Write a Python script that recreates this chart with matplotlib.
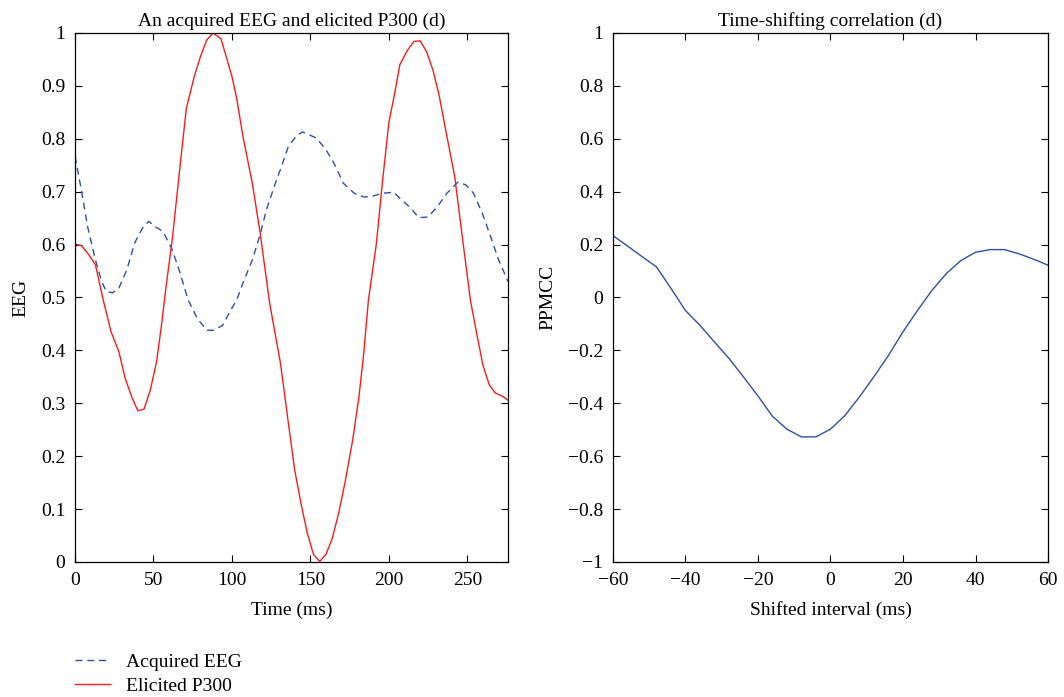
import matplotlib
matplotlib.use("Agg")
import matplotlib.pyplot as plt
from matplotlib.ticker import FuncFormatter

plt.rcParams['font.family'] = ['Liberation Serif', 'DejaVu Serif']
plt.rcParams['axes.unicode_minus'] = True

# Elicited P300 (red)
p300_t = [0, 4, 8, 13, 18, 23, 28, 32, 36, 40, 44, 48, 52, 55, 58, 62, 67, 71, 76, 80, 84,
          88, 93, 96, 100, 103, 107, 113, 118, 124, 131, 136, 140, 144, 148, 152, 156, 160,
          164, 168, 172, 177, 181, 184, 187, 192, 196, 200, 204, 207, 212, 216, 220, 224,
          228, 232, 237, 242, 246, 252, 256, 260, 264, 268, 272, 276]
p300_v = [0.601, 0.598, 0.584, 0.562, 0.495, 0.435, 0.397, 0.347, 0.313, 0.286, 0.289, 0.325,
          0.379, 0.445, 0.52, 0.61, 0.75, 0.858, 0.918, 0.956, 0.987, 1.0, 0.989, 0.959,
          0.918, 0.877, 0.805, 0.716, 0.622, 0.49, 0.375, 0.262, 0.174, 0.111, 0.055, 0.014,
          0.001, 0.015, 0.045, 0.092, 0.149, 0.231, 0.313, 0.394, 0.495, 0.6, 0.72, 0.83,
          0.89, 0.94, 0.968, 0.984, 0.985, 0.965, 0.931, 0.883, 0.805, 0.729, 0.634, 0.495,
          0.432, 0.372, 0.335, 0.319, 0.314, 0.306]

# Acquired EEG (blue dashed)
eeg_t = [0, 4, 8, 13, 17, 20, 24, 28, 33, 38, 43, 47, 51, 56, 62, 67, 72, 78, 84, 88, 94,
         99, 103, 107, 113, 118, 122, 127, 132, 136, 141, 145, 149, 154, 160, 165, 171, 178,
         184, 189, 196, 203, 208, 214, 219, 225, 231, 237, 244, 249, 254, 260, 265, 270, 276]
eeg_v = [0.767, 0.704, 0.634, 0.571, 0.53, 0.511, 0.509, 0.518, 0.552, 0.603, 0.631, 0.644,
         0.634, 0.625, 0.59, 0.546, 0.496, 0.46, 0.438, 0.438, 0.447, 0.475, 0.495, 0.527,
         0.571, 0.619, 0.666, 0.71, 0.751, 0.786, 0.805, 0.813, 0.808, 0.801, 0.779, 0.754,
         0.716, 0.697, 0.69, 0.691, 0.697, 0.699, 0.685, 0.669, 0.651, 0.652, 0.672, 0.697,
         0.718, 0.713, 0.697, 0.656, 0.614, 0.571, 0.53]

# Time-shifting correlation
shift = [-60, -56, -52, -48, -44, -40, -36, -32, -28, -24, -20, -16, -12, -8, -4, 0, 4, 8,
         12, 16, 20, 24, 28, 32, 36, 40, 44, 48, 52, 56, 60]
ppmcc = [0.234, 0.195, 0.155, 0.116, 0.035, -0.049, -0.105, -0.168, -0.23, -0.30, -0.372,
         -0.449, -0.498, -0.527, -0.527, -0.498, -0.446, -0.376, -0.299, -0.219, -0.13,
         -0.049, 0.027, 0.091, 0.14, 0.171, 0.181, 0.181, 0.165, 0.145, 0.122]

blue = '#2f4fb0'
red = '#ff1a1a'
fs = 14

fmt = FuncFormatter(lambda v, p: f'{v:g}'.replace('-', '\u2212'))

fig = plt.figure(figsize=(10.64, 6.97), dpi=100)
ax1 = fig.add_axes([0.0705, 0.1937, 0.407, 0.759])
ax2 = fig.add_axes([0.576, 0.1937, 0.409, 0.759])

l1, = ax1.plot(eeg_t, eeg_v, color=blue, lw=1.0, ls=(0, (5, 3.5)), label='Acquired EEG')
l2, = ax1.plot(p300_t, p300_v, color=red, lw=1.0, label='Elicited P300')
ax1.set_xlim(0, 276)
ax1.set_ylim(0, 1)
ax1.set_xticks([0, 50, 100, 150, 200, 250])
ax1.set_yticks([i / 10 for i in range(11)])
ax1.set_title('An acquired EEG and elicited P300 (d)', fontsize=fs, pad=5)
ax1.set_xlabel('Time (ms)', fontsize=fs, labelpad=9)
ax1.set_ylabel('EEG', fontsize=fs, labelpad=8)

ax2.plot(shift, ppmcc, color=blue, lw=1.0)
ax2.set_xlim(-60, 60)
ax2.set_ylim(-1, 1)
ax2.set_xticks(range(-60, 61, 20))
ax2.set_yticks([i / 10 for i in range(-10, 11, 2)])
ax2.set_title('Time-shifting correlation (d)', fontsize=fs, pad=5)
ax2.set_xlabel('Shifted interval (ms)', fontsize=fs, labelpad=9)
ax2.set_ylabel('PPMCC', fontsize=fs, labelpad=8)

for ax in (ax1, ax2):
    ax.xaxis.set_major_formatter(fmt)
    ax.yaxis.set_major_formatter(fmt)
    ax.tick_params(direction='in', top=True, right=True, labelsize=fs, length=5, width=0.8)
    ax.tick_params(axis='x', pad=7)
    ax.tick_params(axis='y', pad=7)
    for s in ax.spines.values():
        s.set_linewidth(0.9)

fig.legend(handles=[l1, l2], loc='upper left', bbox_to_anchor=(0.0545, 0.088),
           frameon=False, fontsize=fs, handlelength=1.75, handletextpad=0.85,
           labelspacing=0.35)

fig.savefig('out.png', dpi=100)
